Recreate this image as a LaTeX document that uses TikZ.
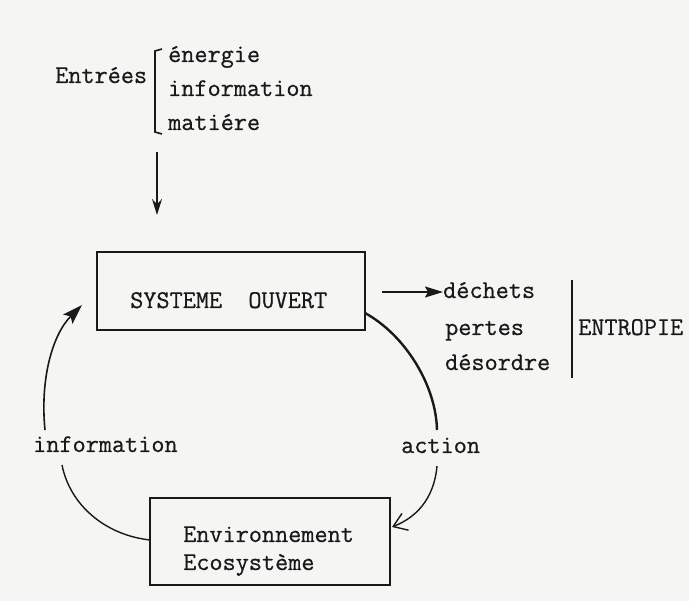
\documentclass[tikz,border=0pt]{standalone}
\usepackage{fontspec}
\newfontfamily\tw[FakeBold=0.6]{Latin Modern Mono}
\usetikzlibrary{arrows.meta}
\definecolor{paper}{RGB}{245,245,243}
\definecolor{ink}{RGB}{25,25,25}
\tikzset{
  lbl/.style={font=\tw\fontsize{25.5}{30}\selectfont, text=ink, inner sep=0pt, anchor=base west},
  boxline/.style={draw=ink, line width=1.8pt},
  conn/.style={draw=ink, line width=1.4pt},
}
\begin{document}
\begin{tikzpicture}[x=1pt,y=-1pt]
\fill[paper] (0,0) rectangle (689,601);
\useasboundingbox (0,0) rectangle (689,601);
\clip (0,0) rectangle (689,601);
% Entrees
\node[lbl] (entrees) at (55,83) {Entrées};
\node[lbl] (energie) at (168,62) {énergie};
\node[lbl] (info1) at (168,96) {information};
\node[lbl] (matiere) at (168,130) {matiére};
\draw[conn, line width=1.6pt] (162,49) -- (155,51) -- (155,132) -- (162,134);
% arrow into system
\coordinate (topin) at (157,152);
\coordinate (topTip) at (157,215);
\draw[conn, line width=1.6pt, -{Stealth[length=16pt,width=10pt]}] (topin) -- (topTip);
% system box
\draw[boxline] (97,252) rectangle (365,330);
\node[lbl] (sys) at (130,308) {SYSTEME\ \ OUVERT};
% outputs
\coordinate (outtail) at (382,292);
\node[lbl] (dechets) at (443,298) {déchets};
\node[lbl] (pertes) at (445,335) {pertes};
\node[lbl] (desordre) at (445,370) {désordre};
\draw[conn, line width=1.6pt] (572,280) -- (572,378);
\node[lbl] (entropie) at (578,335) {ENTROPIE};
\draw[conn, line width=1.6pt, -{Stealth[length=18pt,width=11pt,inset=3pt]}] (outtail) -- (dechets.west |- outtail);
% environment box
\draw[boxline] (150,498) rectangle (390,585);
\node[lbl] (env) at (183,542) {Environnement};
\node[lbl] (eco) at (183,570) {Ecosystème};
% labels on the loop
\node[lbl] (info2) at (33,452) {information};
\node[lbl] (action) at (401,453) {action};
% right loop
\coordinate (sysSE) at (365,313);
\coordinate (actTop) at (437,430);
\coordinate (actBot) at (437,466);
\coordinate (envE) at (392,527);
\draw[conn, line width=2.4pt] (sysSE) .. controls (405,335) and (436,385) .. (actTop);
\draw[conn, -{Straight Barb[length=13pt,width=18pt]}] (actBot) .. controls (434,500) and (415,518) .. (envE);
% left loop
\coordinate (envW) at (150,540);
\coordinate (infBot) at (62,465);
\coordinate (infTop) at (45,430);
\coordinate (sysW) at (82,305);
\draw[conn] (envW) .. controls (105,535) and (70,505) .. (infBot);
\draw[conn, line width=1.6pt, -{Stealth[length=20pt,width=13pt,inset=4pt]}] (infTop) .. controls (40,380) and (52,335) .. (sysW);
\end{tikzpicture}
\end{document}
